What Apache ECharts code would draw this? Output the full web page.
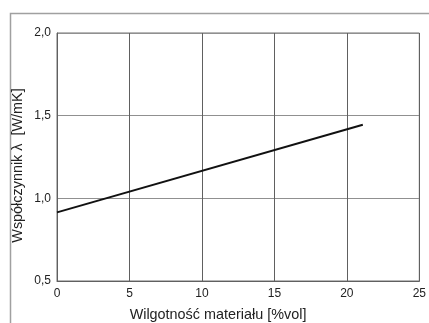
<!DOCTYPE html>
<html><head><meta charset="utf-8">
<script src="https://cdn.jsdelivr.net/npm/echarts@6/dist/echarts.min.js"></script>
<style>html,body{margin:0;padding:0;background:#fff;}#c{width:429px;height:323px;}</style>
</head><body><div id="c"></div>
<script>
const moisture = [0, 21.1];
const conductivity = [0.915, 1.445];
const xTicks = [0, 5, 10, 15, 20, 25];
const yTicks = [0.5, 1.0, 1.5, 2.0];
const xTitle = 'Wilgotność materiału [%vol]';
const yTitle = 'Współczynnik λ  [W/mK]';

const chart = echarts.init(document.getElementById('c'), null, {renderer: 'canvas'});
const font = '"Liberation Sans", Arial, sans-serif';
chart.setOption({
  animation: false,
  backgroundColor: '#fff',
  graphic: [{
    type: 'rect', left: 8, top: 11, shape: {width: 600, height: 500},
    style: {fill: 'none', stroke: '#a0a0a0', lineWidth: 1.5}, silent: true, z: -10
  }, {
    type: 'text', x: 218, y: 315, silent: true,
    style: {text: xTitle, font: '14.4px ' + font, fill: '#222', textAlign: 'center', textVerticalAlign: 'middle'}
  }, {
    type: 'text', x: 18, y: 165.5, rotation: Math.PI / 2, silent: true,
    style: {text: yTitle, font: '14.4px ' + font, fill: '#222', textAlign: 'center', textVerticalAlign: 'middle'}
  }],
  grid: {left: 57, right: 8, top: 33, bottom: 42, show: true, borderColor: '#707070', borderWidth: 1},
  xAxis: {
    type: 'value', min: xTicks[0], max: xTicks[xTicks.length - 1], interval: 5,
    axisLine: {show: true, lineStyle: {color: '#606060', width: 1}},
    axisTick: {show: false},
    axisLabel: {fontFamily: font, fontSize: 12, color: '#222', margin: 7},
    splitLine: {show: true, lineStyle: {color: '#606060', width: 1}}
  },
  yAxis: {
    type: 'value', min: yTicks[0], max: yTicks[yTicks.length - 1], interval: 0.5,
    axisLine: {show: true, lineStyle: {color: '#606060', width: 1}},
    axisTick: {show: false},
    axisLabel: {fontFamily: font, fontSize: 12, color: '#222', margin: 6,
      formatter: v => v.toFixed(1).replace('.', ',')},
    splitLine: {show: true, lineStyle: {color: '#909090', width: 1}}
  },
  series: [{
    type: 'line', data: moisture.map((x, i) => [x, conductivity[i]]),
    showSymbol: false, lineStyle: {color: '#111', width: 2}
  }]
});
</script></body></html>
